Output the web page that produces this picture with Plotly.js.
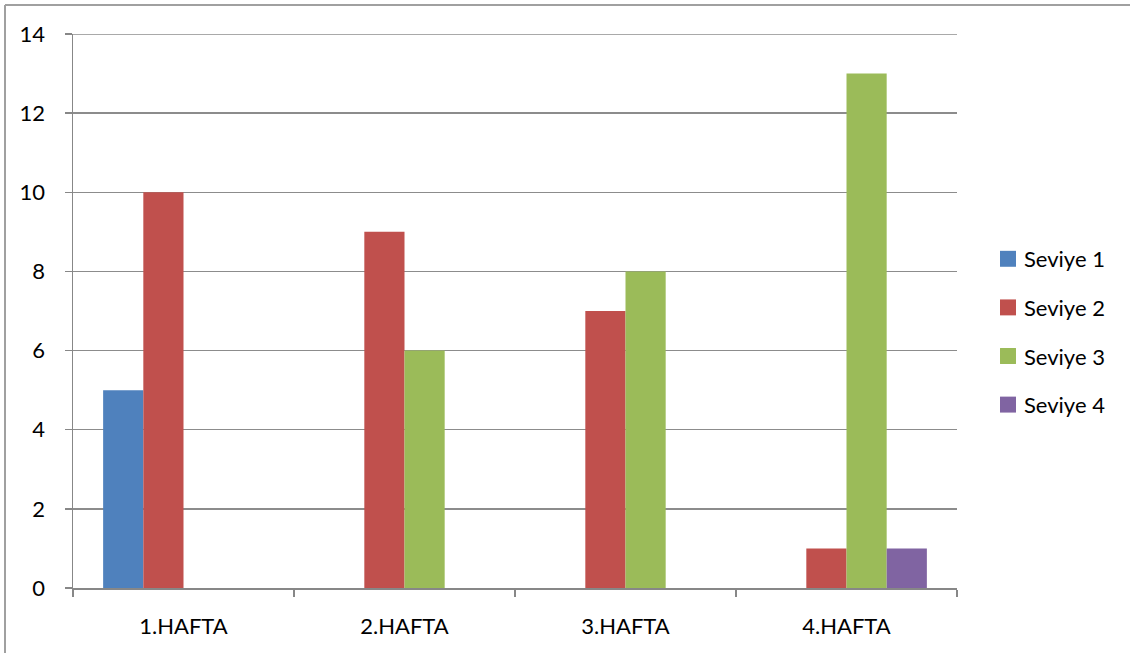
<!DOCTYPE html>
<html>
<head>
<meta charset="utf-8">
<script src="https://cdn.plot.ly/plotly-3.0.1.min.js"></script>
<style>
html,body{margin:0;padding:0;background:#fff;}
#chart{width:1130px;height:653px;}
</style>
</head>
<body>
<div id="chart"></div>
<script>
const categories = ["1.HAFTA", "2.HAFTA", "3.HAFTA", "4.HAFTA"];
const seriesNames = ["Seviye 1", "Seviye 2", "Seviye 3", "Seviye 4"];
const seviye1 = [5, 0, 0, 0];
const seviye2 = [10, 9, 7, 1];
const seviye3 = [0, 6, 8, 13];
const seviye4 = [0, 0, 0, 1];
const colors = ["#4F81BD", "#C0504D", "#9BBB59", "#8064A2"];

const values = [seviye1, seviye2, seviye3, seviye4];
const traces = values.map((v, i) => ({
  type: "bar",
  x: categories,
  y: v,
  name: seriesNames[i],
  legendgroup: "g" + i,
  marker: {color: colors[i], line: {width: 0}},
  hoverinfo: "x+y+name"
}));

const font = "Lato, 'Open Sans', sans-serif";
const fs = 22;
const L = 73, R = 957, T = 34, B = 588;
const pw = R - L, ph = B - T;
const px = v => (v - L) / pw;
const py = v => (B - v) / ph;

const layout = {
  width: 1130, height: 653,
  margin: {l: L, r: 1130 - R, t: T, b: 653 - B, pad: 0},
  paper_bgcolor: "#ffffff",
  plot_bgcolor: "#ffffff",
  font: {family: font, size: fs, color: "#000000"},
  barmode: "group",
  bargap: 0.2727,
  bargroupgap: 0,
  showlegend: true,
  legend: {
    x: px(984), y: py(238), xanchor: "left", yanchor: "top",
    font: {family: font, size: fs, color: "#000"},
    tracegroupgap: 17, bgcolor: "rgba(0,0,0,0)", borderwidth: 0
  },
  xaxis: {
    type: "category",
    showline: true, linecolor: "#878787", linewidth: 1.5,
    ticks: "outside", tickson: "boundaries", ticklen: 7, tickcolor: "#878787", tickwidth: 1.5,
    showgrid: false, zeroline: false,
    ticklabelstandoff: 18,
    tickfont: {family: font, size: fs, color: "#000"},
    fixedrange: true
  },
  yaxis: {
    range: [0, 14], dtick: 2, tick0: 0,
    showline: true, linecolor: "#878787", linewidth: 1.5,
    ticks: "outside", ticklen: 7, tickcolor: "#878787", tickwidth: 1.5,
    showgrid: true, gridcolor: "#8c8c8c", gridwidth: 1.5,
    zeroline: false,
    ticklabelstandoff: 15,
    tickfont: {family: font, size: fs, color: "#000"},
    fixedrange: true
  },
  shapes: [
    {type: "line", xref: "paper", yref: "y", x0: 0, x1: 1, y0: 14, y1: 14, line: {color: "#8c8c8c", width: 1.5}, layer: "below"},
    {type: "line", xref: "paper", yref: "paper", x0: px(5), x1: px(1130), y0: py(5), y1: py(5), line: {color: "#a0a0a0", width: 2}},
    {type: "line", xref: "paper", yref: "paper", x0: px(5), x1: px(5), y0: py(5), y1: py(653), line: {color: "#a0a0a0", width: 2}}
  ]
};

Plotly.newPlot("chart", traces, layout, {displayModeBar: false, staticPlot: true}).then(gd => {
  gd.querySelectorAll(".legend .legendpoints path").forEach(p => {
    p.setAttribute("transform", "translate(24,0) scale(1.33)");
  });
});
</script>
</body>
</html>
